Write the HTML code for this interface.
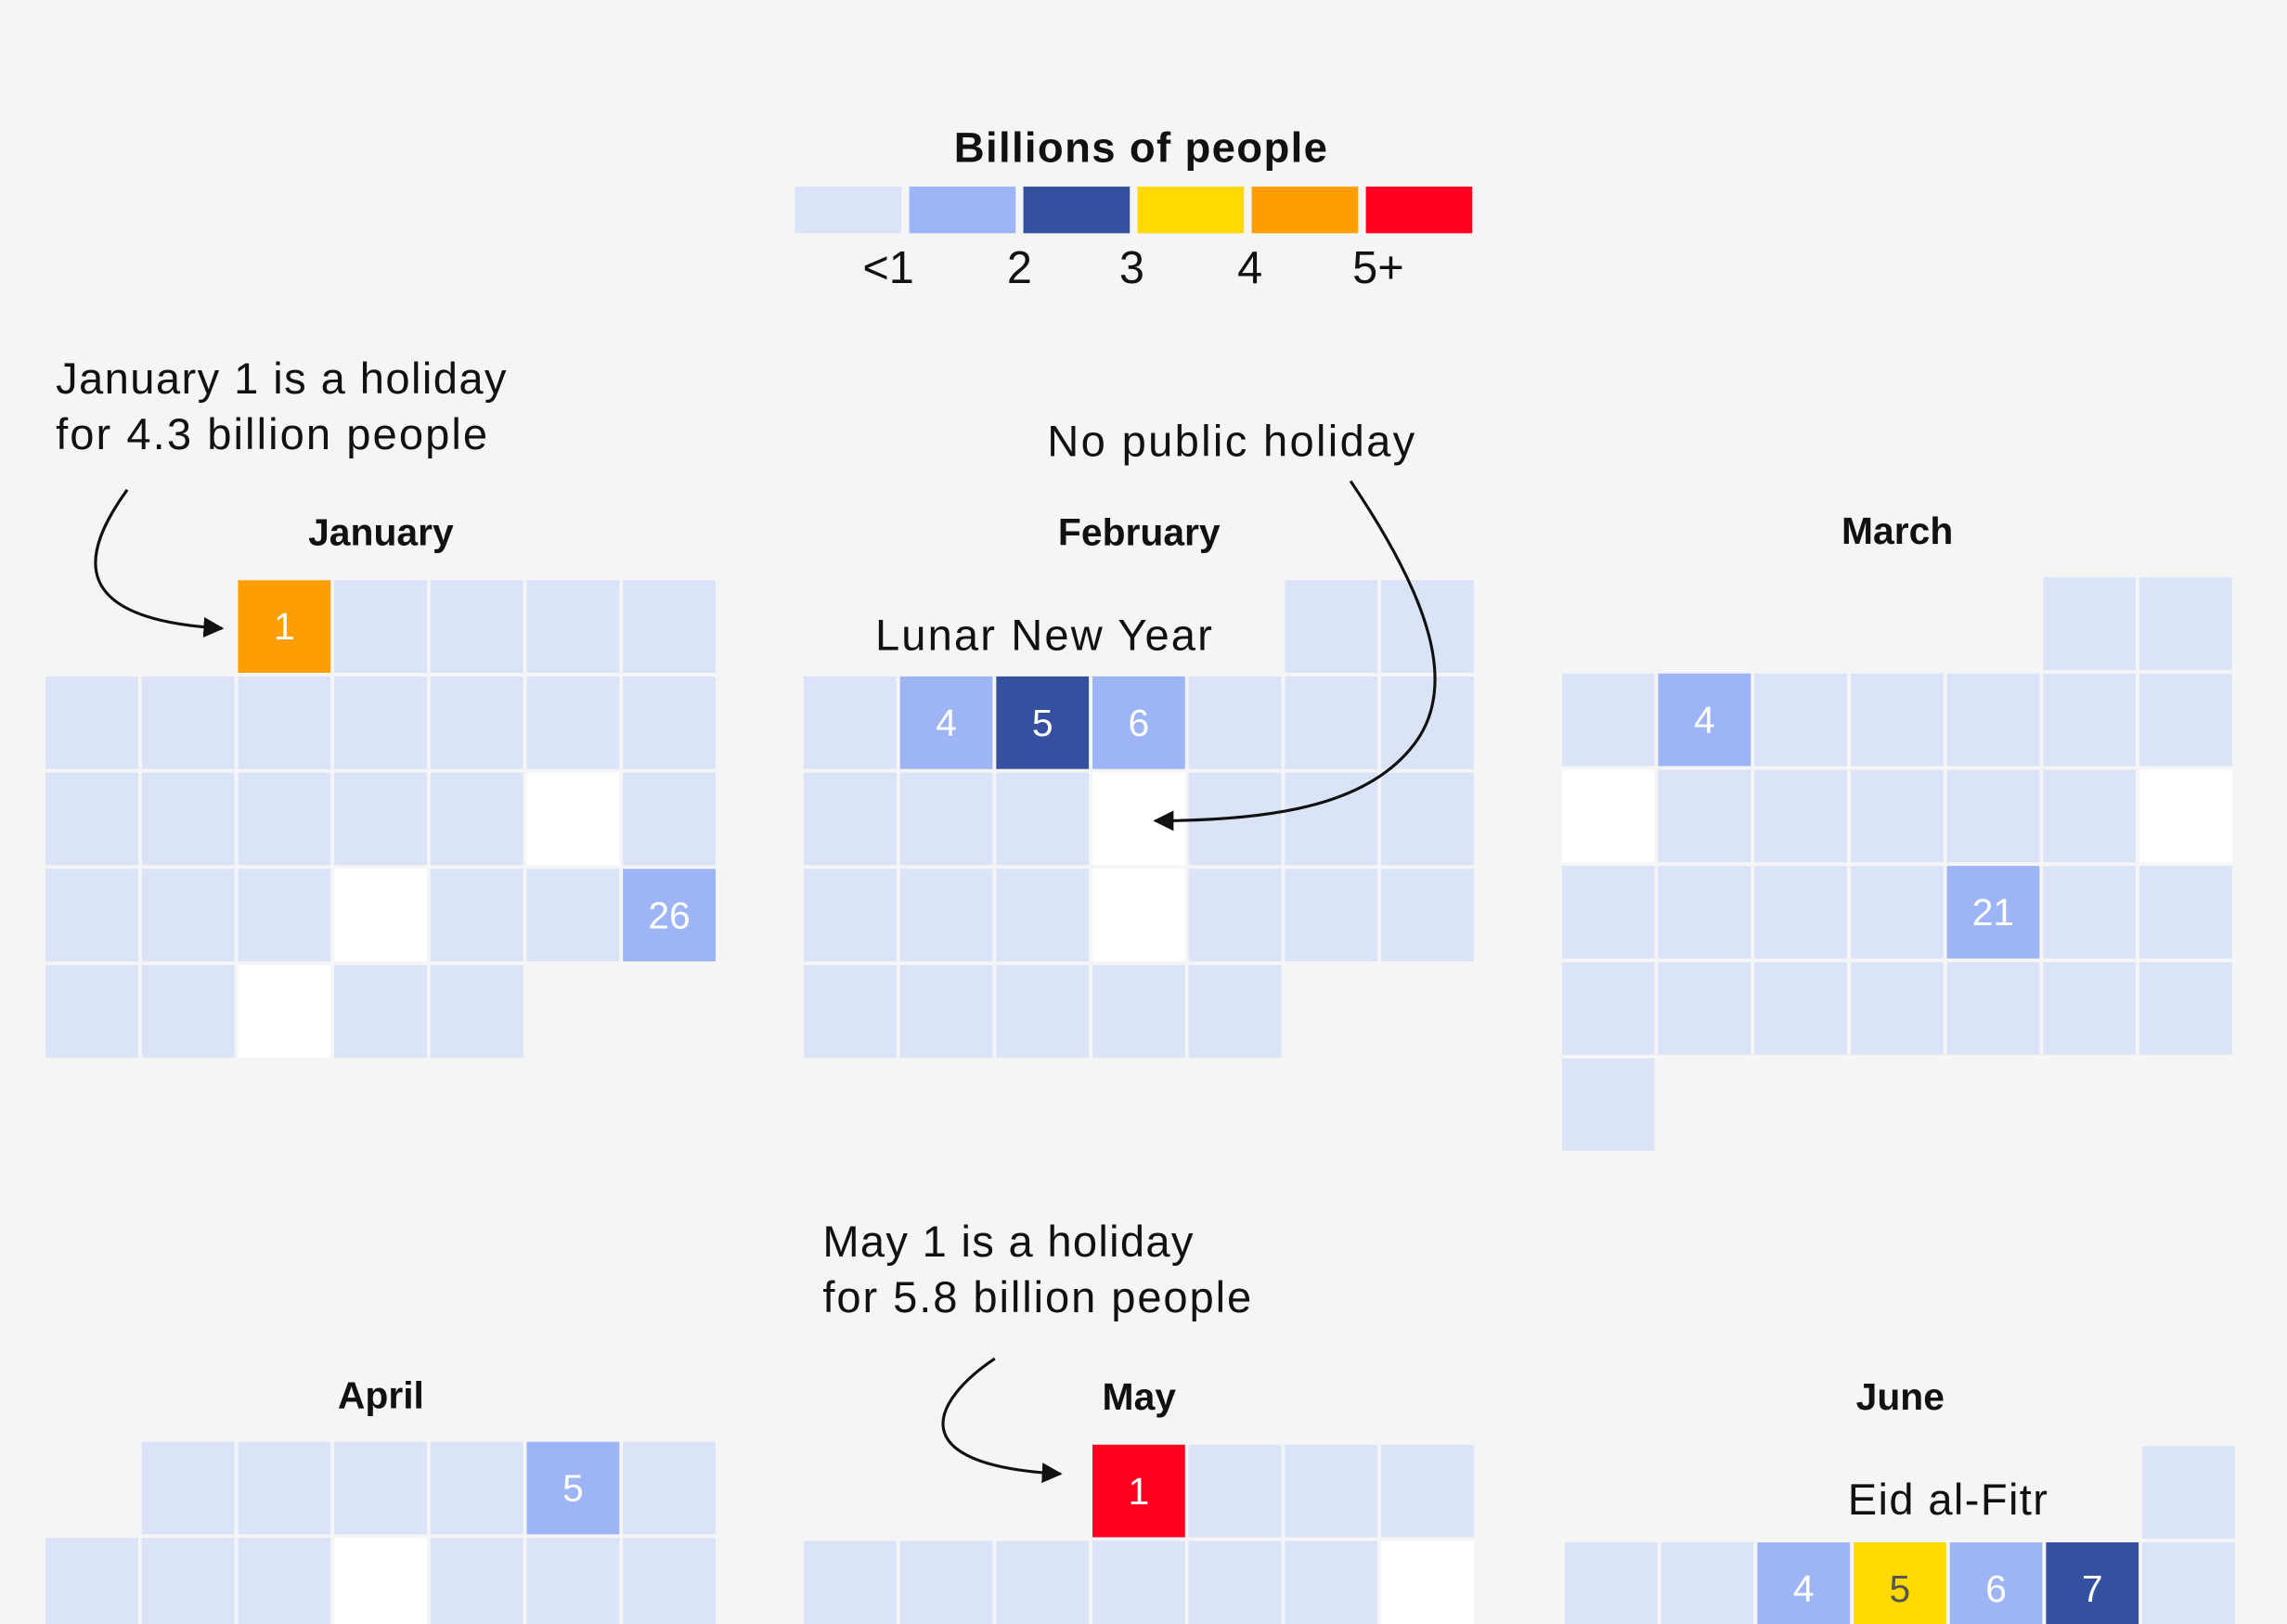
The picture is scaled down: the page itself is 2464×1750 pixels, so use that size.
<!DOCTYPE html>
<html><head><meta charset="utf-8">
<style>
html,body{margin:0;padding:0;background:#f5f5f5;}
svg{display:block;font-family:"Liberation Sans",sans-serif;}
</style></head>
<body>
<svg id="chart" width="2464" height="1750" viewBox="0 0 1568 1114" xmlns="http://www.w3.org/2000/svg">
<rect x="0" y="0" width="1568" height="1114" fill="#f5f5f5"/>
<g id="legend">
<text x="782" y="111" text-anchor="middle" font-size="29" font-weight="bold" fill="#111" textLength="256">Billions of people</text>
</g>
<g id="cells"></g>
<g id="annotations" fill="#111" font-size="30">
<text x="38" y="270" textLength="309">January 1 is a holiday</text>
<text x="38" y="308" textLength="296">for 4.3 billion people</text>
<text x="718" y="313" textLength="252">No public holiday</text>
<text x="600" y="446" textLength="231">Lunar New Year</text>
<text x="564" y="862" textLength="254">May 1 is a holiday</text>
<text x="564" y="900" textLength="294">for 5.8 billion people</text>
<text x="1267" y="1039" textLength="137">Eid al-Fitr</text>
</g>
<defs><marker id="ah" viewBox="0 0 10 10" refX="9" refY="5" markerWidth="7" markerHeight="7" orient="auto"><path d="M0,0 L10,5 L0,10 z" fill="#111"/></marker></defs>
<path d="M87,336 C55,380 45,425 152,431" fill="none" stroke="#111" stroke-width="2" marker-end="url(#ah)"/>
<path d="M926,330 C980,410 1000,470 970,510 C940,550 880,563 792,563" fill="none" stroke="#111" stroke-width="2" marker-end="url(#ah)"/>
<path d="M682,932 C640,960 615,1005 727,1011" fill="none" stroke="#111" stroke-width="2" marker-end="url(#ah)"/>
</svg>
<script>
const legendColors = ["#dae3f7","#9db5f5","#3650a0","#ffd900","#ff9e00","#ff0022"];
const legendLabels = ["<1","2","3","4","5+"];
const monthNames = ["January","February","March","April","May","June"];
const monthStartCol = [2,5,5,1,3,6];
const monthDays = [31,28,31,30,31,30];
const monthX = [31,551,1071,31,551,1073];
const monthY = [398,398,396,989,991,992];
const titleY = [365,365,364,957,958,958];
// holiday values (billions) per month: [day, value]
const holidays = [
  [[1,4.3],[26,1.5]],
  [[4,1.6],[5,2.8],[6,1.6]],
  [[4,1.6],[21,1.5]],
  [[5,1.6]],
  [[1,5.8]],
  [[4,1.6],[5,3.8],[6,1.6],[7,2.8]]
];
// days with no public holiday anywhere
const noHoliday = [[18,23,29],[13,20],[10,16],[10],[11],[]];

const svg = document.getElementById('chart');
const NS = "http://www.w3.org/2000/svg";
const PITCH = 66, CELL = 63.5;
function colorFor(v){
  if (v >= 5) return legendColors[5];
  if (v >= 4) return legendColors[4];
  if (v >= 3.5) return legendColors[3];
  if (v >= 2.5) return legendColors[2];
  if (v >= 1.2) return legendColors[1];
  return legendColors[0];
}
function cellX(m, day){ return monthX[m] + ((monthStartCol[m] + day - 1) % 7) * PITCH; }
function cellY(m, day){ return monthY[m] + Math.floor((monthStartCol[m] + day - 1) / 7) * PITCH; }

const lg = document.getElementById('legend');
legendColors.forEach((c,i)=>{
  const r = document.createElementNS(NS,'rect');
  r.setAttribute('x', 545 + i*78.3); r.setAttribute('y',128);
  r.setAttribute('width',73); r.setAttribute('height',32); r.setAttribute('fill',c);
  
  
  lg.appendChild(r);
});
const legendLabelX = [609,699,776,857,945];
legendLabels.forEach((l,i)=>{
  const t = document.createElementNS(NS,'text');
  t.setAttribute('x', legendLabelX[i]);
  t.setAttribute('y', 194); t.setAttribute('text-anchor','middle');
  t.setAttribute('font-size', 31); t.setAttribute('fill','#111');
  t.textContent = l;
  
  
  lg.appendChild(t);
});

const g = document.getElementById('cells');
monthNames.forEach((name,m)=>{
  const tt = document.createElementNS(NS,'text');
  tt.setAttribute('x', monthX[m] + 3.5*PITCH - 1); tt.setAttribute('y', titleY[m] + 9);
  tt.setAttribute('text-anchor','middle'); tt.setAttribute('font-size',26);
  tt.setAttribute('font-weight','bold'); tt.setAttribute('fill','#111');
  tt.textContent = name;
  
  
  g.appendChild(tt);
  const hmap = {};
  holidays[m].forEach(([d,v])=>{ hmap[d]=v; });
  for (let d=1; d<=monthDays[m]; d++){
    const x = cellX(m,d), y = cellY(m,d);
    if (y > 1120) continue;
    let fill = legendColors[0];
    if (noHoliday[m].includes(d)) fill = "#ffffff";
    if (hmap[d] !== undefined) fill = colorFor(hmap[d]);
    const r = document.createElementNS(NS,'rect');
    r.setAttribute('x',x); r.setAttribute('y',y);
    r.setAttribute('width',CELL); r.setAttribute('height',CELL); r.setAttribute('fill',fill);
    
    
    g.appendChild(r);
    if (hmap[d] !== undefined){
      const t = document.createElementNS(NS,'text');
      t.setAttribute('x', x + CELL/2); t.setAttribute('y', y + CELL/2 + 9);
      t.setAttribute('text-anchor','middle'); t.setAttribute('font-size',26);
      t.setAttribute('fill', fill === legendColors[3] ? '#555' : '#ffffff');
      t.textContent = d;
      
      
      g.appendChild(t);
    }
  }
});
</script>
</body></html>
